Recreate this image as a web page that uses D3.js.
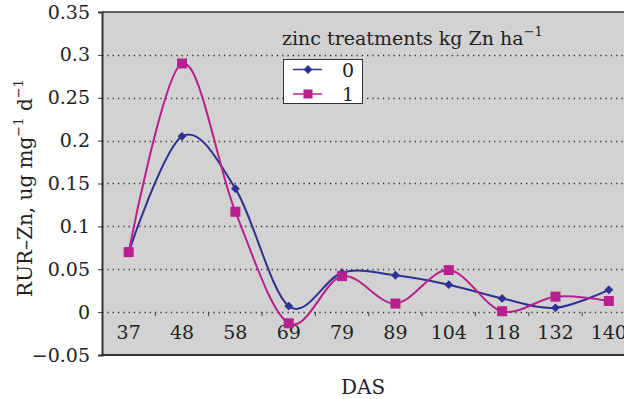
<!DOCTYPE html>
<html>
<head>
<meta charset="utf-8">
<script src="https://cdn.jsdelivr.net/npm/d3@7"></script>
<style>
  body { margin: 0; background: #fff; }
  svg { display: block; }
  text { font-family: "DejaVu Serif", serif; fill: #222; }
</style>
</head>
<body>
<div id="chart"></div>
<script>
var days = ['37', '48', '58', '69', '79', '89', '104', '118', '132', '140'];
var zinc0 = [0.070, 0.205, 0.144, 0.007, 0.046, 0.043, 0.032, 0.016, 0.005, 0.026];
var zinc1 = [0.070, 0.290, 0.117, -0.013, 0.042, 0.010, 0.049, 0.001, 0.018, 0.013];
var yTicks = [-0.05, 0, 0.05, 0.1, 0.15, 0.2, 0.25, 0.3, 0.35];
var seriesNames = ['0', '1'];

var width = 624, height = 399;
var plotLeft = 102, plotTop = 12, plotBottom = 355;

var color0 = '#2e3192', color1 = '#b8208f';

var svg = d3.select('#chart').append('svg')
  .attr('width', width).attr('height', height);

var x = d3.scaleBand().domain(days).range([plotLeft, plotLeft + 533.5]);
var y = d3.scaleLinear().domain([-0.05, 0.35]).range([plotBottom, plotTop]);

function cx(i) { return x(days[i]) + x.bandwidth() / 2; }

// plot background
svg.append('rect')
  .attr('x', plotLeft).attr('y', plotTop)
  .attr('width', width - plotLeft).attr('height', plotBottom - plotTop)
  .attr('fill', '#d2d2d2');

// dotted grid lines
svg.append('g').selectAll('line')
  .data(yTicks.filter(function(t) { return t >= 0 && t < 0.35; }))
  .enter().append('line')
  .attr('x1', plotLeft).attr('x2', width)
  .attr('y1', function(d) { return Math.round(y(d)) + 0.5; })
  .attr('y2', function(d) { return Math.round(y(d)) + 0.5; })
  .attr('stroke', '#333')
  .attr('stroke-width', 1.3)
  .attr('stroke-dasharray', '1.3 4');

// category ticks along the zero line
svg.append('g').selectAll('line')
  .data(days.slice(1))
  .enter().append('line')
  .attr('x1', function(d) { return x(d); })
  .attr('x2', function(d) { return x(d); })
  .attr('y1', y(0)).attr('y2', y(0) + 4)
  .attr('stroke', '#444').attr('stroke-width', 1);

// category labels
svg.append('g').selectAll('text')
  .data(days)
  .enter().append('text')
  .attr('x', function(d) { return x(d) + x.bandwidth() / 2; })
  .attr('y', y(0) + 27)
  .attr('text-anchor', 'middle')
  .attr('font-size', 19)
  .text(function(d) { return d; });

// y axis
var yAxis = d3.axisLeft(y).tickValues(yTicks).tickSize(4).tickPadding(8)
  .tickFormat(function(d) { return d === 0 ? '0' : String(+d.toFixed(2)).replace('-', '\u2212'); });
var gy = svg.append('g').attr('transform', 'translate(' + plotLeft + ',0)').call(yAxis);
gy.select('.domain').attr('stroke', '#333').attr('stroke-width', 2);
gy.selectAll('.tick line').attr('stroke', '#333');
gy.selectAll('.tick text').attr('font-size', 19).attr('fill', '#222')
  .attr('font-family', '"DejaVu Serif", serif');

// top and bottom frame
svg.append('line').attr('x1', plotLeft).attr('x2', width).attr('y1', plotTop).attr('y2', plotTop)
  .attr('stroke', '#333').attr('stroke-width', 1.5);
svg.append('line').attr('x1', plotLeft).attr('x2', width).attr('y1', plotBottom).attr('y2', plotBottom)
  .attr('stroke', '#333').attr('stroke-width', 2);

// lines
var line = d3.line()
  .x(function(d, i) { return cx(i); })
  .y(function(d) { return y(d); })
  .curve(d3.curveCatmullRom.alpha(0));

svg.append('path').datum(zinc0).attr('d', line)
  .attr('fill', 'none').attr('stroke', color0).attr('stroke-width', 2);
svg.append('path').datum(zinc1).attr('d', line)
  .attr('fill', 'none').attr('stroke', color1).attr('stroke-width', 2);

var diamond = d3.symbol().type(d3.symbolDiamond2).size(50);
svg.append('g').selectAll('path')
  .data(zinc0).enter().append('path')
  .attr('transform', function(d, i) { return 'translate(' + cx(i) + ',' + y(d) + ')'; })
  .attr('d', diamond).attr('fill', color0);

svg.append('g').selectAll('rect')
  .data(zinc1).enter().append('rect')
  .attr('x', function(d, i) { return cx(i) - 5; })
  .attr('y', function(d) { return y(d) - 5; })
  .attr('width', 10).attr('height', 10)
  .attr('fill', color1);

// legend
var title = svg.append('text').attr('x', 282).attr('y', 45).attr('font-size', 19);
title.append('tspan').text('zinc treatments kg Zn ha');
title.append('tspan').attr('dy', -9).attr('font-size', 13).text('\u22121');

var lg = svg.append('g');
lg.append('rect').attr('x', 283.5).attr('y', 59.5).attr('width', 79).attr('height', 44)
  .attr('fill', '#fff').attr('stroke', '#333').attr('stroke-width', 1);
var lx1 = 293, lx2 = 322, lmid = 308;
[0, 1].forEach(function(i) {
  var ly = i === 0 ? 69.5 : 94;
  var c = i === 0 ? color0 : color1;
  lg.append('line').attr('x1', lx1).attr('x2', lx2).attr('y1', ly).attr('y2', ly)
    .attr('stroke', c).attr('stroke-width', 1.5);
  if (i === 0) {
    lg.append('path').attr('transform', 'translate(' + lmid + ',' + ly + ')')
      .attr('d', diamond).attr('fill', c);
  } else {
    lg.append('rect').attr('x', lmid - 4.5).attr('y', ly - 4.5).attr('width', 9).attr('height', 9)
      .attr('fill', c);
  }
  lg.append('text').attr('x', 348).attr('y', ly + 7).attr('text-anchor', 'middle')
    .attr('font-size', 19).text(seriesNames[i]);
});

// axis titles
svg.append('text').attr('x', 363).attr('y', 394).attr('text-anchor', 'middle')
  .attr('font-size', 20).text('DAS');

var yl = svg.append('text')
  .attr('transform', 'translate(32,' + 188 + ') rotate(-90)')
  .attr('text-anchor', 'middle')
  .attr('font-size', 20);
yl.append('tspan').text('RUR\u2013Zn, ug mg');
yl.append('tspan').attr('dy', -9).attr('font-size', 13).text('\u22121');
yl.append('tspan').attr('dy', 9).text(' d');
yl.append('tspan').attr('dy', -9).attr('font-size', 13).text('\u22121');
</script>
</body>
</html>
